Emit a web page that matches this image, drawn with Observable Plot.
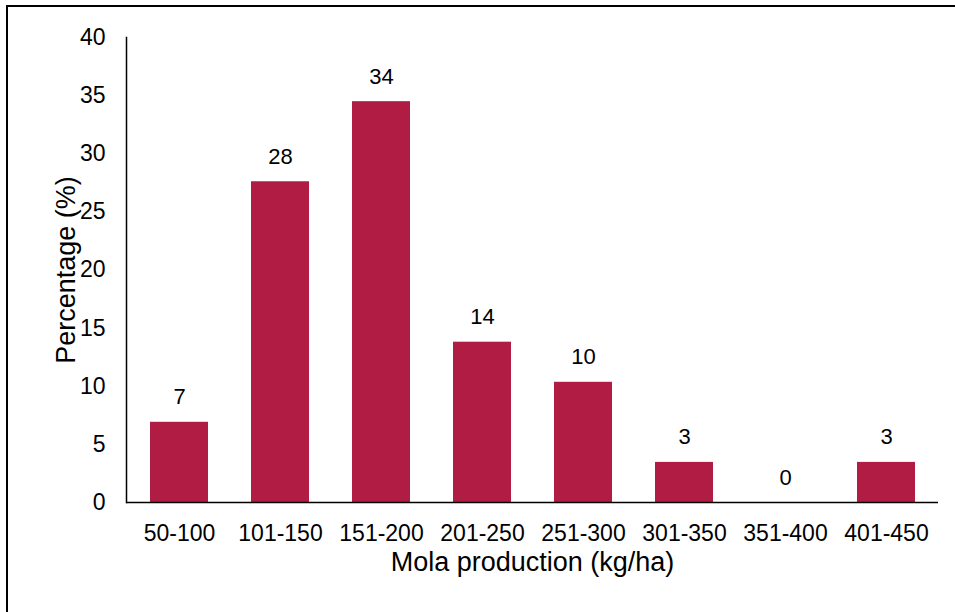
<!DOCTYPE html>
<html>
<head>
<meta charset="utf-8">
<script src="https://cdn.jsdelivr.net/npm/d3@7"></script>
<script src="https://cdn.jsdelivr.net/npm/@observablehq/plot@0.6"></script>
<style>
  html, body { margin: 0; padding: 0; background: #fff; overflow: hidden; }
  #wrap { position: relative; width: 955px; height: 612px; }
  #frame { position: absolute; left: 6px; top: 5px; width: 1000px; height: 700px;
           border: 2px solid #000; box-sizing: border-box; }
  #chart { position: absolute; left: 0; top: 0; }
</style>
</head>
<body>
<div id="wrap">
  <div id="frame"></div>
  <div id="chart"></div>
</div>
<script>
// Production classes (kg/ha) and share of farms in each class (%)
const classes = ["50-100", "101-150", "151-200", "201-250", "251-300", "301-350", "351-400", "401-450"];
const percentages = [6.90, 27.59, 34.48, 13.79, 10.34, 3.45, 0, 3.45];
const yTicks = [0, 5, 10, 15, 20, 25, 30, 35, 40];

const data = classes.map((c, i) => ({cls: c, pct: percentages[i]}));
const fmt = d3.format(".0f");
const font = "'Liberation Sans', Arial, sans-serif";

const chart = Plot.plot({
  width: 955,
  height: 612,
  marginLeft: 126,
  marginRight: 17,
  marginTop: 37,
  marginBottom: 110,
  style: {fontFamily: font, fontSize: "23px", color: "#000", background: "transparent"},
  x: {domain: classes, paddingInner: 0.43, paddingOuter: 0.215, label: null},
  y: {domain: [0, 40], label: null},
  marks: [
    Plot.barY(data, {x: "cls", y: "pct", fill: "#b01c44"}),
    Plot.text(data, {x: "cls", y: "pct", text: d => fmt(d.pct), dy: -25, fontSize: 22, fill: "#000"}),
    Plot.ruleY([0], {stroke: "#000", strokeWidth: 1.5}),
    Plot.axisY({ticks: yTicks, tickSize: 0, tickPadding: 21, label: null, fontSize: 23}),
    Plot.frame({anchor: "left", stroke: "#000", strokeWidth: 1.5}),
    Plot.axisX({tickSize: 0, tickPadding: 22, label: null, fontSize: 23}),
    Plot.text(["Percentage (%)"], {frameAnchor: "left", textAnchor: "middle", dx: -60, rotate: -90, fontSize: 27, fill: "#000"}),
    Plot.text(["Mola production (kg/ha)"], {frameAnchor: "bottom", dy: 68, fontSize: 27, fill: "#000"})
  ]
});
document.getElementById("chart").appendChild(chart);
</script>
</body>
</html>
